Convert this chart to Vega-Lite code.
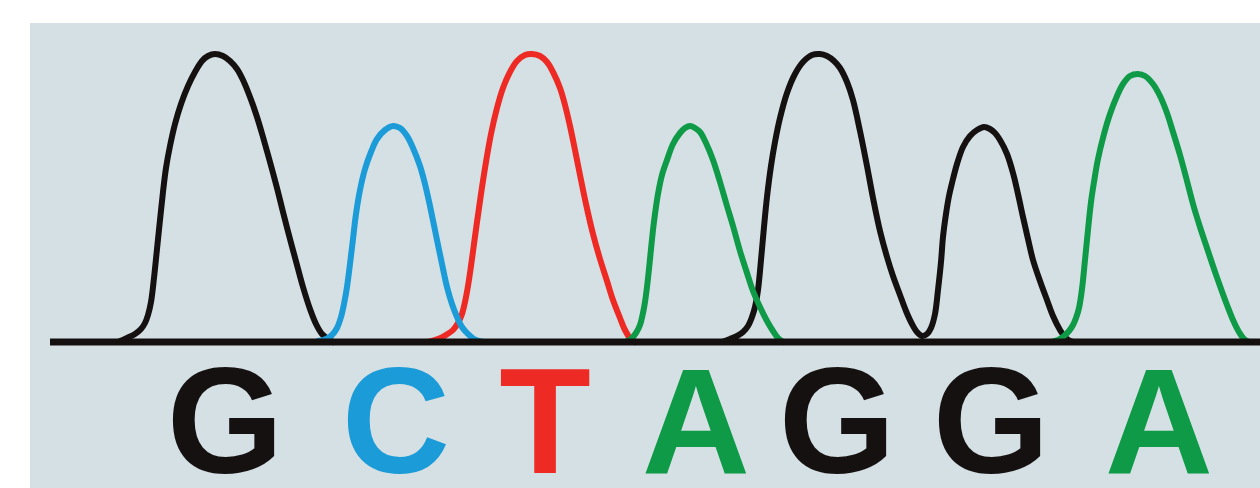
{
  "$schema": "https://vega.github.io/schema/vega-lite/v6.json",
  "width": 1230,
  "height": 465,
  "padding": {"left": 30, "top": 23, "right": 0, "bottom": 0},
  "autosize": {"type": "none"},
  "background": "#ffffff",
  "config": {"view": {"fill": "#d4e0e4", "stroke": null}},
  "datasets": {
    "trace": [
      {"peak":"G1","base":"G","pos":118,"signal":0},{"peak":"G1","base":"G","pos":127,"signal":4},{"peak":"G1","base":"G","pos":135,"signal":8},{"peak":"G1","base":"G","pos":141,"signal":13},{"peak":"G1","base":"G","pos":145,"signal":19},{"peak":"G1","base":"G","pos":148,"signal":27},{"peak":"G1","base":"G","pos":151,"signal":40},{"peak":"G1","base":"G","pos":154,"signal":64},{"peak":"G1","base":"G","pos":157,"signal":93},{"peak":"G1","base":"G","pos":160,"signal":122},{"peak":"G1","base":"G","pos":163,"signal":150},{"peak":"G1","base":"G","pos":166,"signal":174},{"peak":"G1","base":"G","pos":170,"signal":196},{"peak":"G1","base":"G","pos":175,"signal":218},{"peak":"G1","base":"G","pos":181,"signal":238},{"peak":"G1","base":"G","pos":188,"signal":256},{"peak":"G1","base":"G","pos":195,"signal":270},{"peak":"G1","base":"G","pos":202,"signal":281},{"peak":"G1","base":"G","pos":208,"signal":286},{"peak":"G1","base":"G","pos":215,"signal":288},{"peak":"G1","base":"G","pos":223,"signal":286},{"peak":"G1","base":"G","pos":230,"signal":281},{"peak":"G1","base":"G","pos":237,"signal":273},{"peak":"G1","base":"G","pos":243,"signal":262},{"peak":"G1","base":"G","pos":250,"signal":245},{"peak":"G1","base":"G","pos":257,"signal":225},{"peak":"G1","base":"G","pos":263,"signal":205},{"peak":"G1","base":"G","pos":270,"signal":180},{"peak":"G1","base":"G","pos":277,"signal":154},{"peak":"G1","base":"G","pos":283,"signal":130},{"peak":"G1","base":"G","pos":290,"signal":103},{"peak":"G1","base":"G","pos":297,"signal":77},{"peak":"G1","base":"G","pos":303,"signal":55},{"peak":"G1","base":"G","pos":310,"signal":33},{"peak":"G1","base":"G","pos":316,"signal":18},{"peak":"G1","base":"G","pos":322,"signal":8},{"peak":"G1","base":"G","pos":328,"signal":3},{"peak":"G1","base":"G","pos":333,"signal":0},

      {"peak":"G23","base":"G","pos":722,"signal":0},{"peak":"G23","base":"G","pos":730,"signal":3},{"peak":"G23","base":"G","pos":737,"signal":6},{"peak":"G23","base":"G","pos":743,"signal":10},{"peak":"G23","base":"G","pos":748,"signal":16},{"peak":"G23","base":"G","pos":752,"signal":25},{"peak":"G23","base":"G","pos":755,"signal":35},{"peak":"G23","base":"G","pos":758,"signal":52},{"peak":"G23","base":"G","pos":761,"signal":82},{"peak":"G23","base":"G","pos":764,"signal":115},{"peak":"G23","base":"G","pos":767,"signal":145},{"peak":"G23","base":"G","pos":771,"signal":176},{"peak":"G23","base":"G","pos":775,"signal":200},{"peak":"G23","base":"G","pos":780,"signal":224},{"peak":"G23","base":"G","pos":787,"signal":249},{"peak":"G23","base":"G","pos":795,"signal":268},{"peak":"G23","base":"G","pos":803,"signal":280},{"peak":"G23","base":"G","pos":812,"signal":287},{"peak":"G23","base":"G","pos":820,"signal":288},{"peak":"G23","base":"G","pos":827,"signal":286},{"peak":"G23","base":"G","pos":834,"signal":281},{"peak":"G23","base":"G","pos":840,"signal":274},{"peak":"G23","base":"G","pos":847,"signal":260},{"peak":"G23","base":"G","pos":853,"signal":242},{"peak":"G23","base":"G","pos":860,"signal":211},{"peak":"G23","base":"G","pos":867,"signal":176},{"peak":"G23","base":"G","pos":873,"signal":144},{"peak":"G23","base":"G","pos":880,"signal":111},{"peak":"G23","base":"G","pos":887,"signal":85},{"peak":"G23","base":"G","pos":893,"signal":66},{"peak":"G23","base":"G","pos":900,"signal":47},{"peak":"G23","base":"G","pos":906,"signal":31},{"peak":"G23","base":"G","pos":912,"signal":18},{"peak":"G23","base":"G","pos":917,"signal":10},{"peak":"G23","base":"G","pos":922,"signal":6},{"peak":"G23","base":"G","pos":927,"signal":8},{"peak":"G23","base":"G","pos":931,"signal":14},{"peak":"G23","base":"G","pos":935,"signal":28},{"peak":"G23","base":"G","pos":938,"signal":52},{"peak":"G23","base":"G","pos":941,"signal":80},{"peak":"G23","base":"G","pos":943,"signal":105},{"peak":"G23","base":"G","pos":946,"signal":128},{"peak":"G23","base":"G","pos":949,"signal":146},{"peak":"G23","base":"G","pos":952,"signal":159},{"peak":"G23","base":"G","pos":957,"signal":178},{"peak":"G23","base":"G","pos":963,"signal":195},{"peak":"G23","base":"G","pos":970,"signal":206},{"peak":"G23","base":"G","pos":977,"signal":212},{"peak":"G23","base":"G","pos":984,"signal":215},{"peak":"G23","base":"G","pos":990,"signal":213},{"peak":"G23","base":"G","pos":995,"signal":209},{"peak":"G23","base":"G","pos":1000,"signal":202},{"peak":"G23","base":"G","pos":1007,"signal":188},{"peak":"G23","base":"G","pos":1013,"signal":169},{"peak":"G23","base":"G","pos":1018,"signal":148},{"peak":"G23","base":"G","pos":1023,"signal":125},{"peak":"G23","base":"G","pos":1028,"signal":103},{"peak":"G23","base":"G","pos":1033,"signal":82},{"peak":"G23","base":"G","pos":1040,"signal":61},{"peak":"G23","base":"G","pos":1047,"signal":42},{"peak":"G23","base":"G","pos":1053,"signal":26},{"peak":"G23","base":"G","pos":1060,"signal":12},{"peak":"G23","base":"G","pos":1065,"signal":5},{"peak":"G23","base":"G","pos":1070,"signal":1},{"peak":"G23","base":"G","pos":1074,"signal":0},

      {"peak":"T1","base":"T","pos":428,"signal":0},{"peak":"T1","base":"T","pos":438,"signal":3},{"peak":"T1","base":"T","pos":446,"signal":7},{"peak":"T1","base":"T","pos":453,"signal":12},{"peak":"T1","base":"T","pos":458,"signal":19},{"peak":"T1","base":"T","pos":462,"signal":28},{"peak":"T1","base":"T","pos":465,"signal":40},{"peak":"T1","base":"T","pos":468,"signal":56},{"peak":"T1","base":"T","pos":471,"signal":76},{"peak":"T1","base":"T","pos":474,"signal":98},{"peak":"T1","base":"T","pos":477,"signal":120},{"peak":"T1","base":"T","pos":481,"signal":148},{"peak":"T1","base":"T","pos":486,"signal":180},{"peak":"T1","base":"T","pos":491,"signal":208},{"peak":"T1","base":"T","pos":497,"signal":234},{"peak":"T1","base":"T","pos":503,"signal":254},{"peak":"T1","base":"T","pos":510,"signal":270},{"peak":"T1","base":"T","pos":517,"signal":281},{"peak":"T1","base":"T","pos":525,"signal":287},{"peak":"T1","base":"T","pos":532,"signal":288},{"peak":"T1","base":"T","pos":540,"signal":286},{"peak":"T1","base":"T","pos":547,"signal":280},{"peak":"T1","base":"T","pos":553,"signal":270},{"peak":"T1","base":"T","pos":560,"signal":254},{"peak":"T1","base":"T","pos":565,"signal":237},{"peak":"T1","base":"T","pos":570,"signal":216},{"peak":"T1","base":"T","pos":575,"signal":192},{"peak":"T1","base":"T","pos":580,"signal":167},{"peak":"T1","base":"T","pos":586,"signal":138},{"peak":"T1","base":"T","pos":593,"signal":108},{"peak":"T1","base":"T","pos":600,"signal":83},{"peak":"T1","base":"T","pos":607,"signal":61},{"peak":"T1","base":"T","pos":613,"signal":42},{"peak":"T1","base":"T","pos":620,"signal":24},{"peak":"T1","base":"T","pos":625,"signal":12},{"peak":"T1","base":"T","pos":630,"signal":4},{"peak":"T1","base":"T","pos":635,"signal":0},

      {"peak":"C1","base":"C","pos":318,"signal":1},{"peak":"C1","base":"C","pos":326,"signal":3},{"peak":"C1","base":"C","pos":332,"signal":7},{"peak":"C1","base":"C","pos":337,"signal":14},{"peak":"C1","base":"C","pos":341,"signal":25},{"peak":"C1","base":"C","pos":344,"signal":38},{"peak":"C1","base":"C","pos":347,"signal":55},{"peak":"C1","base":"C","pos":350,"signal":78},{"peak":"C1","base":"C","pos":353,"signal":103},{"peak":"C1","base":"C","pos":356,"signal":128},{"peak":"C1","base":"C","pos":360,"signal":152},{"peak":"C1","base":"C","pos":365,"signal":173},{"peak":"C1","base":"C","pos":371,"signal":190},{"peak":"C1","base":"C","pos":377,"signal":203},{"peak":"C1","base":"C","pos":385,"signal":212},{"peak":"C1","base":"C","pos":393,"signal":216},{"peak":"C1","base":"C","pos":400,"signal":214},{"peak":"C1","base":"C","pos":407,"signal":206},{"peak":"C1","base":"C","pos":413,"signal":194},{"peak":"C1","base":"C","pos":420,"signal":176},{"peak":"C1","base":"C","pos":425,"signal":158},{"peak":"C1","base":"C","pos":430,"signal":136},{"peak":"C1","base":"C","pos":437,"signal":102},{"peak":"C1","base":"C","pos":442,"signal":78},{"peak":"C1","base":"C","pos":447,"signal":55},{"peak":"C1","base":"C","pos":452,"signal":38},{"peak":"C1","base":"C","pos":457,"signal":25},{"peak":"C1","base":"C","pos":462,"signal":15},{"peak":"C1","base":"C","pos":467,"signal":9},{"peak":"C1","base":"C","pos":474,"signal":3},{"peak":"C1","base":"C","pos":483,"signal":0},

      {"peak":"A1","base":"A","pos":625,"signal":0},{"peak":"A1","base":"A","pos":631,"signal":3},{"peak":"A1","base":"A","pos":636,"signal":9},{"peak":"A1","base":"A","pos":640,"signal":17},{"peak":"A1","base":"A","pos":643,"signal":29},{"peak":"A1","base":"A","pos":645,"signal":40},{"peak":"A1","base":"A","pos":647,"signal":55},{"peak":"A1","base":"A","pos":649,"signal":73},{"peak":"A1","base":"A","pos":651,"signal":93},{"peak":"A1","base":"A","pos":653,"signal":112},{"peak":"A1","base":"A","pos":655,"signal":128},{"peak":"A1","base":"A","pos":658,"signal":148},{"peak":"A1","base":"A","pos":662,"signal":167},{"peak":"A1","base":"A","pos":667,"signal":182},{"peak":"A1","base":"A","pos":673,"signal":198},{"peak":"A1","base":"A","pos":680,"signal":209},{"peak":"A1","base":"A","pos":685,"signal":214},{"peak":"A1","base":"A","pos":690,"signal":216},{"peak":"A1","base":"A","pos":695,"signal":214},{"peak":"A1","base":"A","pos":700,"signal":210},{"peak":"A1","base":"A","pos":706,"signal":199},{"peak":"A1","base":"A","pos":713,"signal":182},{"peak":"A1","base":"A","pos":720,"signal":160},{"peak":"A1","base":"A","pos":727,"signal":136},{"peak":"A1","base":"A","pos":733,"signal":116},{"peak":"A1","base":"A","pos":740,"signal":91},{"peak":"A1","base":"A","pos":747,"signal":69},{"peak":"A1","base":"A","pos":753,"signal":51},{"peak":"A1","base":"A","pos":760,"signal":35},{"peak":"A1","base":"A","pos":767,"signal":21},{"peak":"A1","base":"A","pos":773,"signal":11},{"peak":"A1","base":"A","pos":778,"signal":4},{"peak":"A1","base":"A","pos":783,"signal":0},

      {"peak":"A2","base":"A","pos":1052,"signal":0},{"peak":"A2","base":"A","pos":1058,"signal":2},{"peak":"A2","base":"A","pos":1064,"signal":6},{"peak":"A2","base":"A","pos":1069,"signal":11},{"peak":"A2","base":"A","pos":1073,"signal":17},{"peak":"A2","base":"A","pos":1076,"signal":24},{"peak":"A2","base":"A","pos":1079,"signal":34},{"peak":"A2","base":"A","pos":1082,"signal":53},{"peak":"A2","base":"A","pos":1085,"signal":82},{"peak":"A2","base":"A","pos":1088,"signal":112},{"peak":"A2","base":"A","pos":1091,"signal":140},{"peak":"A2","base":"A","pos":1094,"signal":160},{"peak":"A2","base":"A","pos":1098,"signal":183},{"peak":"A2","base":"A","pos":1104,"signal":208},{"peak":"A2","base":"A","pos":1110,"signal":228},{"peak":"A2","base":"A","pos":1117,"signal":246},{"peak":"A2","base":"A","pos":1123,"signal":258},{"peak":"A2","base":"A","pos":1130,"signal":266},{"peak":"A2","base":"A","pos":1138,"signal":268},{"peak":"A2","base":"A","pos":1145,"signal":266},{"peak":"A2","base":"A","pos":1153,"signal":258},{"peak":"A2","base":"A","pos":1160,"signal":246},{"peak":"A2","base":"A","pos":1167,"signal":229},{"peak":"A2","base":"A","pos":1173,"signal":210},{"peak":"A2","base":"A","pos":1180,"signal":187},{"peak":"A2","base":"A","pos":1187,"signal":161},{"peak":"A2","base":"A","pos":1193,"signal":138},{"peak":"A2","base":"A","pos":1200,"signal":115},{"peak":"A2","base":"A","pos":1207,"signal":94},{"peak":"A2","base":"A","pos":1213,"signal":76},{"peak":"A2","base":"A","pos":1220,"signal":56},{"peak":"A2","base":"A","pos":1227,"signal":37},{"peak":"A2","base":"A","pos":1233,"signal":22},{"peak":"A2","base":"A","pos":1239,"signal":10},{"peak":"A2","base":"A","pos":1244,"signal":3},{"peak":"A2","base":"A","pos":1249,"signal":0}
    ],
    "calls": [
      {"base":"G","pos":225,"signal":-131},
      {"base":"C","pos":396,"signal":-131},
      {"base":"T","pos":545,"signal":-131},
      {"base":"A","pos":696,"signal":-131},
      {"base":"G","pos":837,"signal":-131},
      {"base":"G","pos":991,"signal":-131},
      {"base":"A","pos":1159,"signal":-131}
    ],
    "baseline": [
      {"start":50,"end":1260,"signal":0}
    ]
  },
  "layer": [
    {
      "data": {"name": "trace"},
      "mark": {"type": "line", "interpolate": "catmull-rom", "strokeWidth": 6, "strokeCap": "round", "strokeJoin": "round", "clip": true},
      "encoding": {
        "x": {"field": "pos", "type": "quantitative", "scale": {"domain": [30, 1260], "nice": false, "zero": false}, "axis": null},
        "y": {"field": "signal", "type": "quantitative", "scale": {"domain": [-146, 319], "nice": false, "zero": false}, "axis": null},
        "color": {"field": "base", "type": "nominal", "scale": {"domain": ["G","C","T","A"], "range": ["#161111","#1b9bd7","#ee2a24","#0e9a47"]}, "legend": null},
        "detail": {"field": "peak", "type": "nominal"},
        "order": {"field": "pos", "type": "quantitative"}
      }
    },
    {
      "data": {"name": "baseline"},
      "mark": {"type": "rule", "strokeWidth": 7, "color": "#141010"},
      "encoding": {
        "x": {"field": "start", "type": "quantitative"},
        "x2": {"field": "end"},
        "y": {"field": "signal", "type": "quantitative"}
      }
    },
    {
      "data": {"name": "calls"},
      "mark": {"type": "text", "font": "Liberation Sans", "fontWeight": "bold", "fontSize": 150, "align": "center", "baseline": "alphabetic"},
      "encoding": {
        "x": {"field": "pos", "type": "quantitative"},
        "y": {"field": "signal", "type": "quantitative"},
        "text": {"field": "base", "type": "nominal"},
        "color": {"field": "base", "type": "nominal", "legend": null}
      }
    }
  ]
}
